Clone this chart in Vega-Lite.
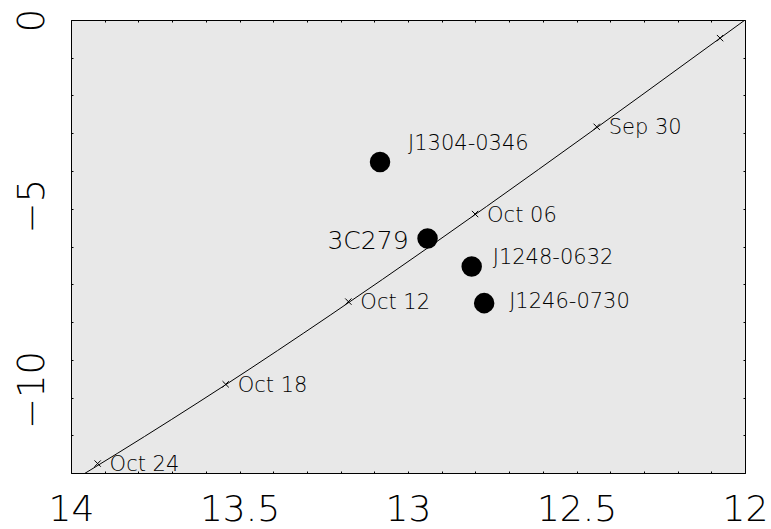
{
  "$schema": "https://vega.github.io/schema/vega-lite/v6.json",
  "width": 674,
  "height": 453,
  "autosize": {"type": "none"},
  "padding": {"left": 71, "top": 20, "right": 26, "bottom": 56},
  "background": "white",
  "config": {
    "view": {"fill": "#e8e8e8", "stroke": "black", "strokeWidth": 1},
    "font": "DejaVu Sans"
  },
  "datasets": {
    "path": [
      {"ra": 11.847, "dec": 0.99},
      {"ra": 12.0, "dec": 0.0},
      {"ra": 12.306, "dec": -1.987},
      {"ra": 12.613, "dec": -3.961},
      {"ra": 12.921, "dec": -5.91},
      {"ra": 13.231, "dec": -7.82},
      {"ra": 13.544, "dec": -9.679},
      {"ra": 13.861, "dec": -11.473},
      {"ra": 14.02, "dec": -12.342}
    ],
    "dates": [
      {"date": "Sep 24", "ra": 12.074, "dec": -0.48},
      {"date": "Sep 30", "ra": 12.44, "dec": -2.83},
      {"date": "Oct 06", "ra": 12.801, "dec": -5.14},
      {"date": "Oct 12", "ra": 13.177, "dec": -7.46},
      {"date": "Oct 18", "ra": 13.541, "dec": -9.65},
      {"date": "Oct 24", "ra": 13.921, "dec": -11.75}
    ],
    "sources": [
      {"name": "J1304-0346", "ra": 13.083, "dec": -3.76},
      {"name": "3C279", "ra": 12.942, "dec": -5.79},
      {"name": "J1248-0632", "ra": 12.811, "dec": -6.53},
      {"name": "J1246-0730", "ra": 12.774, "dec": -7.5}
    ]
  },
  "resolve": {"axis": {"x": "independent", "y": "independent"}},
  "layer": [
    {
      "data": {"name": "path"},
      "mark": {"type": "line", "color": "black", "strokeWidth": 1, "clip": true, "interpolate": "monotone"},
      "encoding": {
        "x": {
          "field": "ra", "type": "quantitative",
          "scale": {"domain": [12, 14], "reverse": true, "nice": false, "zero": false},
          "axis": {
            "orient": "bottom", "title": null, "grid": false, "domain": false,
            "values": [12, 12.1, 12.2, 12.3, 12.4, 12.5, 12.6, 12.7, 12.8, 12.9, 13, 13.1, 13.2, 13.3, 13.4, 13.5, 13.6, 13.7, 13.8, 13.9, 14],
            "format": "~g",
            "labelExpr": "round(datum.value * 2) == datum.value * 2 ? datum.label : ''",
            "labelFontSize": 36, "labelFontWeight": 200, "labelColor": "black", "labelPadding": 21,
            "labelFlush": false, "labelOverlap": false, "labelBound": false,
            "tickSize": -2, "tickColor": "black", "tickWidth": 1
          }
        },
        "y": {
          "field": "dec", "type": "quantitative",
          "scale": {"domain": [-12, 0], "nice": false, "zero": false},
          "axis": {
            "orient": "left", "title": null, "grid": false, "domain": false,
            "values": [-12, -11, -10, -9, -8, -7, -6, -5, -4, -3, -2, -1, 0],
            "format": "~g",
            "labelExpr": "datum.value % 5 == 0 ? datum.label : ''",
            "labelFontSize": 37, "labelFontWeight": 200, "labelColor": "black", "labelPadding": 30,
            "labelAngle": 270, "labelAlign": "center", "labelBaseline": "alphabetic",
            "labelOffset": {"condition": [{"test": "datum.value == -10", "value": -8}, {"test": "datum.value == -5", "value": -3}], "value": 0},
            "labelFlush": false, "labelOverlap": false, "labelBound": false,
            "tickSize": -2, "tickColor": "black", "tickWidth": 1
          }
        }
      }
    },
    {
      "data": {"name": "dates"},
      "mark": {"type": "point", "shape": "M-1,-1L1,1M-1,1L1,-1", "filled": false, "stroke": "black", "strokeWidth": 1, "size": 40, "opacity": 1, "clip": true},
      "encoding": {
        "x": {
          "field": "ra", "type": "quantitative",
          "axis": {
            "orient": "top", "title": null, "grid": false, "domain": false, "labels": false,
            "values": [12, 12.1, 12.2, 12.3, 12.4, 12.5, 12.6, 12.7, 12.8, 12.9, 13, 13.1, 13.2, 13.3, 13.4, 13.5, 13.6, 13.7, 13.8, 13.9, 14],
            "tickSize": -2, "tickColor": "black", "tickWidth": 1
          }
        },
        "y": {
          "field": "dec", "type": "quantitative",
          "axis": {
            "orient": "right", "title": null, "grid": false, "domain": false, "labels": false,
            "values": [-12, -11, -10, -9, -8, -7, -6, -5, -4, -3, -2, -1, 0],
            "tickSize": -2, "tickColor": "black", "tickWidth": 1
          }
        }
      }
    },
    {
      "data": {"name": "dates"},
      "transform": [{"filter": "datum.date != 'Sep 24'"}],
      "mark": {"type": "text", "align": "left", "baseline": "middle", "dx": 12, "dy": 1.5, "fontSize": 21, "fontWeight": 200, "color": "black"},
      "encoding": {
        "x": {"field": "ra", "type": "quantitative", "axis": null},
        "y": {"field": "dec", "type": "quantitative", "axis": null},
        "text": {"field": "date"}
      }
    },
    {
      "data": {"name": "sources"},
      "mark": {"type": "point", "shape": "circle", "filled": true, "color": "black", "size": 420, "opacity": 1},
      "encoding": {
        "x": {"field": "ra", "type": "quantitative", "axis": null},
        "y": {"field": "dec", "type": "quantitative", "axis": null}
      }
    },
    {
      "data": {"name": "sources"},
      "transform": [{"filter": "datum.name == 'J1304-0346'"}],
      "mark": {"type": "text", "align": "left", "baseline": "middle", "dx": 28, "dy": -17.5, "fontSize": 21, "fontWeight": 200, "color": "black"},
      "encoding": {
        "x": {"field": "ra", "type": "quantitative", "axis": null},
        "y": {"field": "dec", "type": "quantitative", "axis": null},
        "text": {"field": "name"}
      }
    },
    {
      "data": {"name": "sources"},
      "transform": [{"filter": "datum.name == 'J1248-0632'"}],
      "mark": {"type": "text", "align": "left", "baseline": "middle", "dx": 21, "dy": -9, "fontSize": 21, "fontWeight": 200, "color": "black"},
      "encoding": {
        "x": {"field": "ra", "type": "quantitative", "axis": null},
        "y": {"field": "dec", "type": "quantitative", "axis": null},
        "text": {"field": "name"}
      }
    },
    {
      "data": {"name": "sources"},
      "transform": [{"filter": "datum.name == 'J1246-0730'"}],
      "mark": {"type": "text", "align": "left", "baseline": "middle", "dx": 25, "dy": -1, "fontSize": 21, "fontWeight": 200, "color": "black"},
      "encoding": {
        "x": {"field": "ra", "type": "quantitative", "axis": null},
        "y": {"field": "dec", "type": "quantitative", "axis": null},
        "text": {"field": "name"}
      }
    },
    {
      "data": {"name": "sources"},
      "transform": [{"filter": "datum.name == '3C279'"}],
      "mark": {"type": "text", "align": "right", "baseline": "middle", "dx": -19, "dy": 2.5, "fontSize": 25, "fontWeight": 200, "color": "black"},
      "encoding": {
        "x": {"field": "ra", "type": "quantitative", "axis": null},
        "y": {"field": "dec", "type": "quantitative", "axis": null},
        "text": {"field": "name"}
      }
    }
  ]
}
